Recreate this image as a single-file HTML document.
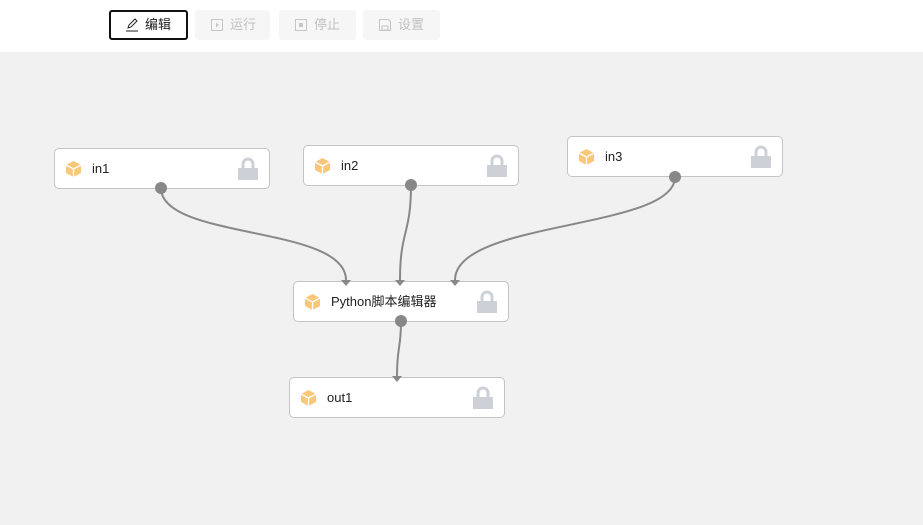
<!DOCTYPE html>
<html><head><meta charset="utf-8"><style>
body{margin:0;width:923px;height:525px;overflow:hidden;font-family:"Liberation Sans","Noto Sans CJK SC",sans-serif;background:#f1f1f1;position:relative}
.top{position:absolute;left:0;top:0;width:923px;height:52px;background:#fff}
.btn{position:absolute;top:10px;height:30px;box-sizing:border-box;border-radius:3px;background:#f6f6f6;color:#c0c0c0;font-size:13px;line-height:30px;padding-left:35px}
.btn.a{border:2px solid #111;background:#fff;color:#222;line-height:26px;padding-left:34px}
.btn svg{position:absolute;left:15px;top:8px}
.btn.a svg{left:14px;top:6px}
.node{position:absolute;width:216px;height:41px;box-sizing:border-box;background:#fff;border:1px solid #c4c4c4;border-radius:5px;font-size:13px;color:#222;line-height:39px}
.node .t{position:absolute;left:37px;top:0}
.node svg.cube{position:absolute;left:10px;top:11px}
.node svg.lock{position:absolute;right:10px;top:8px}
</style></head><body>
<div class="top">
<div class="btn a" style="left:109px;width:79px"><svg width="14" height="14"><path d="M3 10l1-3 6-6 2 2-6 6z" stroke="#222" fill="none"/><path d="M1 13h12" stroke="#222"/></svg>编辑</div>
<div class="btn" style="left:195px;width:75px"><svg width="14" height="14"><rect x="1.5" y="1.5" width="11" height="11" stroke="#c6c6c6" fill="none"/><path d="M6 4.5l3 2.5-3 2.5z" fill="#c6c6c6"/></svg>运行</div>
<div class="btn" style="left:279px;width:77px"><svg width="14" height="14"><rect x="1.5" y="1.5" width="11" height="11" stroke="#c6c6c6" fill="none"/><rect x="5" y="5" width="4" height="4" fill="#c6c6c6"/></svg>停止</div>
<div class="btn" style="left:363px;width:77px"><svg width="14" height="14"><path d="M1.5 1.5h9l2 2v9h-11z" stroke="#c6c6c6" fill="none"/><rect x="4" y="8" width="6" height="4" stroke="#c6c6c6" fill="none"/></svg>设置</div>
</div>
<svg width="923" height="525" style="position:absolute;left:0;top:0">
<g fill="none" stroke="#888" stroke-width="2">
<path d="M161 188 C161 240 346 225 346 280"/>
<path d="M411 185 C411 235 400 230 400 280"/>
<path d="M675 177 C675 230 455 220 455 280"/>
<path d="M401 321 C401 350 397 345 397 376"/>
</g>
</svg>
<div class="node" style="left:54px;top:148px"><svg class="cube" width="17" height="18"><path d="M8.5 1L16 5v8l-7.5 4L1 13V5z" fill="#f9c77a"/><path d="M1 5l7.5 4L16 5M8.5 9v8" stroke="#fff" fill="none" stroke-width="1.3"/></svg><span class="t">in1</span><svg class="lock" width="22" height="24"><path d="M6 11V7a5 5 0 0110 0v4" stroke="#cdd0d6" stroke-width="3" fill="none"/><rect x="1" y="11" width="20" height="12" fill="#cdd0d6"/></svg></div>
<div class="node" style="left:303px;top:145px"><svg class="cube" width="17" height="18"><path d="M8.5 1L16 5v8l-7.5 4L1 13V5z" fill="#f9c77a"/><path d="M1 5l7.5 4L16 5M8.5 9v8" stroke="#fff" fill="none" stroke-width="1.3"/></svg><span class="t">in2</span><svg class="lock" width="22" height="24"><path d="M6 11V7a5 5 0 0110 0v4" stroke="#cdd0d6" stroke-width="3" fill="none"/><rect x="1" y="11" width="20" height="12" fill="#cdd0d6"/></svg></div>
<div class="node" style="left:567px;top:136px"><svg class="cube" width="17" height="18"><path d="M8.5 1L16 5v8l-7.5 4L1 13V5z" fill="#f9c77a"/><path d="M1 5l7.5 4L16 5M8.5 9v8" stroke="#fff" fill="none" stroke-width="1.3"/></svg><span class="t">in3</span><svg class="lock" width="22" height="24"><path d="M6 11V7a5 5 0 0110 0v4" stroke="#cdd0d6" stroke-width="3" fill="none"/><rect x="1" y="11" width="20" height="12" fill="#cdd0d6"/></svg></div>
<div class="node" style="left:293px;top:281px"><svg class="cube" width="17" height="18"><path d="M8.5 1L16 5v8l-7.5 4L1 13V5z" fill="#f9c77a"/><path d="M1 5l7.5 4L16 5M8.5 9v8" stroke="#fff" fill="none" stroke-width="1.3"/></svg><span class="t">Python脚本编辑器</span><svg class="lock" width="22" height="24"><path d="M6 11V7a5 5 0 0110 0v4" stroke="#cdd0d6" stroke-width="3" fill="none"/><rect x="1" y="11" width="20" height="12" fill="#cdd0d6"/></svg></div>
<div class="node" style="left:289px;top:377px"><svg class="cube" width="17" height="18"><path d="M8.5 1L16 5v8l-7.5 4L1 13V5z" fill="#f9c77a"/><path d="M1 5l7.5 4L16 5M8.5 9v8" stroke="#fff" fill="none" stroke-width="1.3"/></svg><span class="t">out1</span><svg class="lock" width="22" height="24"><path d="M6 11V7a5 5 0 0110 0v4" stroke="#cdd0d6" stroke-width="3" fill="none"/><rect x="1" y="11" width="20" height="12" fill="#cdd0d6"/></svg></div>
<svg width="923" height="525" style="position:absolute;left:0;top:0;pointer-events:none">
<g fill="#888"><circle cx="161" cy="188" r="6"/><circle cx="411" cy="185" r="6"/><circle cx="675" cy="177" r="6"/><circle cx="401" cy="321" r="6"/>
<path d="M341 280h10l-5 6z"/><path d="M395 280h10l-5 6z"/><path d="M450 280h10l-5 6z"/><path d="M392 376h10l-5 6z"/></g>
</svg>
</body></html>
